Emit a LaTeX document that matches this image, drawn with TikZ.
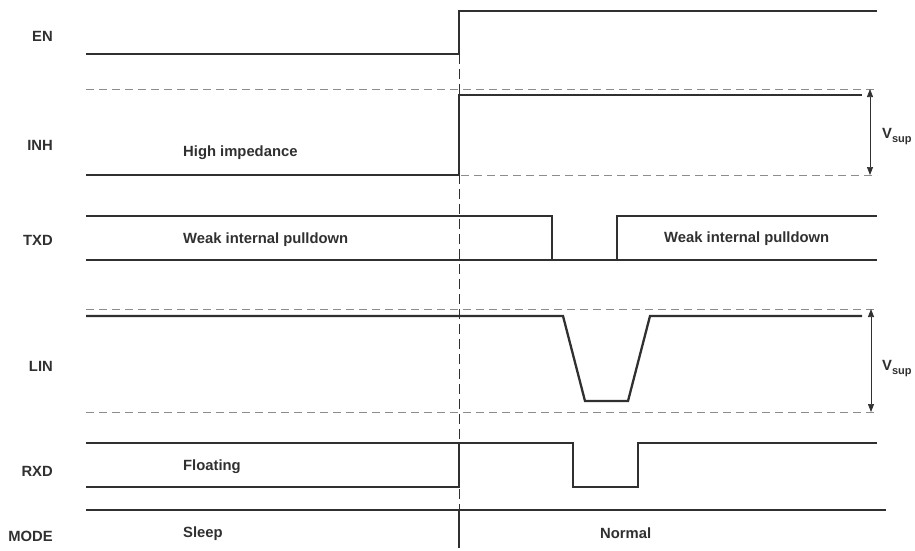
\documentclass[tikz,border=0pt]{standalone}
\usepackage{fontspec}
\setmainfont{Liberation Sans}
\usetikzlibrary{arrows.meta}
\definecolor{sig}{HTML}{303030}
\definecolor{dsh}{HTML}{8C8C8C}
\begin{document}
\begin{tikzpicture}[x=1pt,y=-1pt,
  sigline/.style={draw=sig,line width=2.3pt,line join=miter,line cap=butt},
  refdash/.style={draw=dsh,line width=0.9pt,dash pattern=on 8pt off 5pt},
  timedash/.style={draw=sig,line width=0.8pt,dash pattern=on 10pt off 5pt},
  dimarrow/.style={draw=sig,line width=0.7pt,{Triangle[length=8pt,width=6pt]}-{Triangle[length=8pt,width=6pt]}},
  lbl/.style={font=\bfseries\fontsize{14.8}{17}\selectfont,text=sig,inner sep=0pt},
  ]
\useasboundingbox (0,0) rectangle (915,550);

% signal names
\node[lbl,anchor=base east] (en)   at (53,41)  {EN};
\node[lbl,anchor=base east] (inh)  at (53,150) {INH};
\node[lbl,anchor=base east] (txd)  at (53,245) {TXD};
\node[lbl,anchor=base east] (lin)  at (53,371) {LIN};
\node[lbl,anchor=base east] (rxd)  at (53,476) {RXD};
\node[lbl,anchor=base east] (mode) at (53,541) {MODE};

% state texts
\node[lbl,anchor=base west] (hiz)   at (183,156) {High impedance};
\node[lbl,anchor=base west] (wpd1)  at (183,243) {Weak internal pulldown};
\node[lbl,anchor=base west] (wpd2)  at (664,242) {Weak internal pulldown};
\node[lbl,anchor=base west] (flt)   at (183,470) {Floating};
\node[lbl,anchor=base west] (slp)   at (183,537) {Sleep};
\node[lbl,anchor=base west] (nrm)   at (600,538) {Normal};

% time marker
\draw[timedash] (459,54) -- (459,510);

% EN
\draw[sigline] (86,54) -- (459,54) -- (459,11) -- (877,11);

% INH
\draw[refdash] (86,89) -- (877,89);
\draw[refdash] (461,175) -- (877,175);
\draw[sigline] (86,175) -- (459,175) -- (459,95) -- (862,95);

% TXD
\draw[sigline] (86,216) -- (552,216) -- (552,260);
\draw[sigline] (86,260) -- (877,260);
\draw[sigline] (617,260) -- (617,216) -- (877,216);

% LIN
\draw[refdash] (86,309) -- (877,309);
\draw[refdash] (86,412) -- (877,412);
\draw[sigline] (86,316) -- (563,316) -- (585,401) -- (628,401) -- (650,316) -- (862,316);

% RXD
\draw[sigline] (86,443) -- (573,443) -- (573,487) -- (638,487) -- (638,443) -- (877,443);
\draw[sigline] (86,487) -- (459,487) -- (459,443);

% MODE
\draw[sigline] (86,510) -- (886,510);
\draw[sigline] (459,510) -- (459,548);

% Vsup dimensions
\coordinate (inhtop) at (870,89);
\coordinate (inhbot) at (870,175);
\coordinate (lintop) at (871,309);
\coordinate (linbot) at (871,412);
\draw[dimarrow] (inhtop) -- (inhbot);
\draw[dimarrow] (lintop) -- (linbot);
\node[lbl,anchor=base west] (vs1) at (882,138) {V\raisebox{-4pt}{\fontsize{11}{13}\selectfont sup}};
\node[lbl,anchor=base west] (vs2) at (882,370) {V\raisebox{-4pt}{\fontsize{11}{13}\selectfont sup}};
\end{tikzpicture}
\end{document}
